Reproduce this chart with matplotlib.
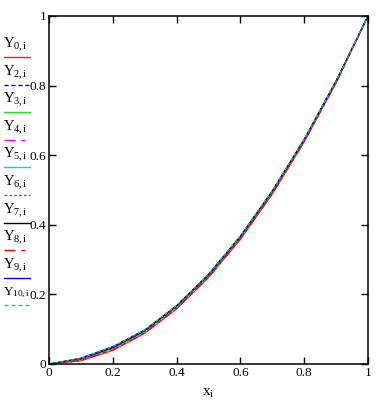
import numpy as np
import matplotlib
matplotlib.use("Agg")
import matplotlib.pyplot as plt
from matplotlib.lines import Line2D

plt.rcParams['font.family'] = 'Liberation Serif'
plt.rcParams['mathtext.fontset'] = 'custom'
plt.rcParams['mathtext.rm'] = 'Liberation Serif'
plt.rcParams['mathtext.it'] = 'Liberation Serif:italic'

x = [0, 0.1, 0.2, 0.3, 0.4, 0.5, 0.6, 0.7, 0.8, 0.9, 1.0]

names = ["0", "2", "3", "4", "5", "6", "7", "8", "9", "10"]
Y0 = [0, .009, .039, .088, .158, .248, .358, .488, .638, .807, 1]
Y2 = [0, .013, .045, .094, .164, .254, .364, .494, .643, .812, 1]
Y3 = [0, .016, .049, .097, .167, .257, .367, .497, .645, .813, 1]
Y4 = [0, .010, .041, .090, .160, .250, .360, .490, .640, .809, 1]
Y5 = [0, .014, .046, .095, .165, .255, .365, .495, .644, .812, 1]
Y6 = [0, .012, .043, .092, .162, .252, .362, .492, .642, .810, 1]
Y7 = [0, .015, .047, .096, .166, .256, .366, .496, .645, .813, 1]
Y8 = [0, .010, .040, .089, .159, .249, .359, .489, .639, .808, 1]
Y9 = [0, .017, .050, .098, .168, .258, .368, .498, .646, .814, 1]
Y10 = [0, .016, .050, .098, .168, .258, .368, .498, .646, .813, 1]
series = [Y0, Y2, Y3, Y4, Y5, Y6, Y7, Y8, Y9, Y10]

colors = ['#e02020', '#0000ff', '#20e020', '#ff00ff', '#00d8d8',
          '#a05a20', '#000000', '#ff0000', '#0000ff', '#20e020']
styles = ['-', (0, (3, 2)), '-', (0, (8, 4, 3, 4)), '-', (0, (2, 1.5)),
          '-', (0, (8, 4, 3, 4)), '-', (0, (3, 2))]

ticks = [0, 0.2, 0.4, 0.6, 0.8, 1]
tick_labels = ["0", "0.2", "0.4", "0.6", "0.8", "1"]

W, H = 382, 403
fig = plt.figure(figsize=(W / 100, H / 100), dpi=100)
ax = fig.add_axes([49 / W, 1 - 364 / H, (368 - 49) / W, (364 - 16) / H])

for s, c, ls in zip(series, colors, styles):
    ax.plot(x, s, color=c, linestyle=ls, lw=0.8)

ax.set_xlim(0, 1)
ax.set_ylim(0, 1)
ax.set_xticks(ticks)
ax.set_xticklabels(tick_labels)
ax.set_yticks(ticks)
ax.set_yticklabels(tick_labels)
ax.tick_params(direction='in', top=True, right=True, length=5, width=1,
               labelsize=9.5, pad=2)
for sp in ax.spines.values():
    sp.set_linewidth(1.1)
ax.set_xlabel(r'$\mathrm{x}_{\mathrm{i}}$', fontsize=11, labelpad=6)

# legend drawn at left like the original
for k, (n, c, ls) in enumerate(zip(names, colors, styles)):
    ty = 45 + k * 27.6
    fig.text(3 / W, 1 - ty / H, r'$\mathrm{Y}_{%s,\mathrm{i}}$' % n,
             fontsize=9.5 if n == "10" else 10.5, va='center', ha='left')
    ly = 1 - (ty + 12) / H
    fig.add_artist(Line2D([4 / W, 30 / W], [ly, ly], color=c, linestyle=ls,
                          lw=1, transform=fig.transFigure))

fig.savefig('out.png', dpi=100)
